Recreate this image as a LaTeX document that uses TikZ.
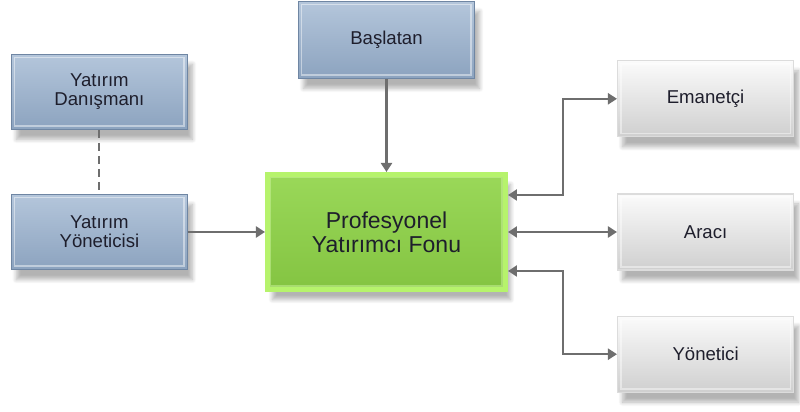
\documentclass[tikz,border=0pt]{standalone}
\usepackage{fontspec}
\setmainfont{Liberation Sans}
\usetikzlibrary{positioning,arrows.meta,shadows.blur}

\definecolor{bluetop}{HTML}{B4C6DB}
\definecolor{bluebot}{HTML}{8CA3BF}
\definecolor{blueedge}{HTML}{6F86A3}
\definecolor{greentop}{HTML}{9AD859}
\definecolor{greenbot}{HTML}{84C442}
\definecolor{greenedge}{HTML}{B6F36C}
\definecolor{greytop}{HTML}{FBFBFB}
\definecolor{greybot}{HTML}{CFCFCF}
\definecolor{greyedge}{HTML}{DCDCDC}
\definecolor{linkgrey}{HTML}{6E6E6E}
\definecolor{textdark}{HTML}{1E1E2C}

\tikzset{
  box/.style={rectangle, align=center, text=textdark, font=\fontsize{9.3}{9.6}\selectfont,
    blur shadow={shadow xshift=2.5pt, shadow yshift=-5pt, shadow blur steps=8, shadow opacity=30}},
  bevel/.style={path picture={
    \draw[#1, line width=0.8pt, opacity=0.45]
      ([shift={(1.6pt,1.6pt)}]path picture bounding box.south west) rectangle
      ([shift={(-1.6pt,-1.6pt)}]path picture bounding box.north east);}},
  bluebox/.style={box, top color=bluetop, bottom color=bluebot, draw=blueedge, line width=0.6pt,
    minimum width=88pt, minimum height=37.5pt, bevel=white},
  greybox/.style={box, top color=greytop, bottom color=greybot, draw=greyedge, line width=0.6pt,
    minimum width=88pt, minimum height=38pt, bevel=white},
  fundbox/.style={box, top color=greentop, bottom color=greenbot, draw=greenedge, line width=2.5pt,
    minimum width=119pt, minimum height=57.5pt, font=\fontsize{11.5}{11.8}\selectfont,
    bevel=greenedge!60!white},
  link/.style={draw=linkgrey, line width=1.1pt, -{Triangle[length=4.5pt,width=5.5pt]}},
  link2/.style={link, {Triangle[length=4.5pt,width=5.5pt]}-{Triangle[length=4.5pt,width=5.5pt]}},
}

\begin{document}
\begin{tikzpicture}
  \useasboundingbox (-193.25pt,-90pt) rectangle (206.75pt,116pt);
  \node[fundbox] (fonu) {Profesyonel\\Yatırımcı Fonu};
  \node[bluebox, above=46.5pt of fonu, minimum height=38.5pt] (baslatan) {Başlatan};
  \node[bluebox, left=38.5pt of fonu] (yoneticisi) {Yatırım\\Yöneticisi};
  \node[bluebox, above=32pt of yoneticisi] (danisman) {Yatırım\\Danışmanı};
  \node[greybox, right=54.5pt of fonu] (araci) {Aracı};
  \node[greybox, above=28pt of araci] (emanetci) {Emanetçi};
  \node[greybox, below=22.5pt of araci] (yonetici) {Yönetici};
  % connectors
  \draw[link] (baslatan) -- (fonu);
  \draw[link] (yoneticisi) -- (fonu);
  \draw[draw=linkgrey, line width=1.1pt, dash pattern=on 4pt off 2.5pt] (danisman) -- (yoneticisi);
  \draw[link2] ([yshift=18.5pt]fonu.east) -- ++(27.5pt,0) |- (emanetci);
  \draw[link2] (fonu) -- (araci);
  \draw[link2] ([yshift=-19.5pt]fonu.east) -- ++(27.5pt,0) |- (yonetici);
\end{tikzpicture}
\end{document}
